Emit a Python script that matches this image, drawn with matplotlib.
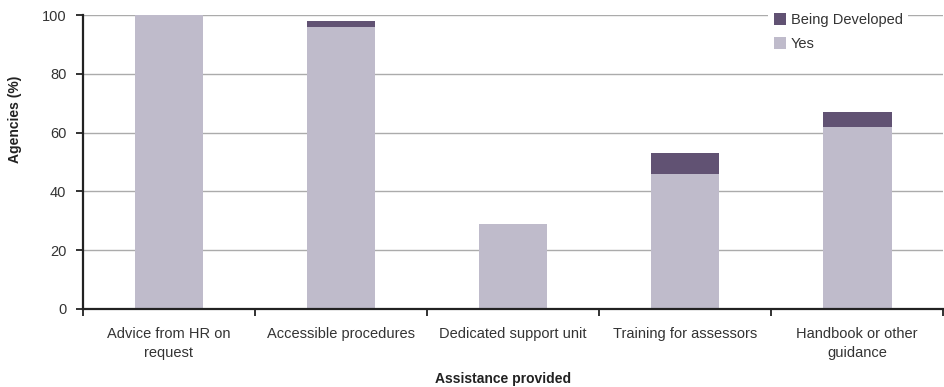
import matplotlib
matplotlib.use("Agg")
import matplotlib.pyplot as plt
import numpy as np

categories = ["Advice from HR on\nrequest", "Accessible procedures",
              "Dedicated support unit", "Training for assessors",
              "Handbook or other\nguidance"]
yes_vals = [100, 96, 29, 46, 62]
developing_vals = [0, 2, 0, 7, 5]

yes_color = "#BFBBCB"
dev_color = "#615273"

plt.rcParams["font.family"] = ["Liberation Sans", "DejaVu Sans"]

fig = plt.figure(figsize=(9.45, 3.87), dpi=100)
ax = fig.add_axes([0.0878, 0.2016, 0.9102, 0.7596])

x = np.arange(len(categories))
ax.bar(x, yes_vals, width=0.4, color=yes_color, label="Yes", zorder=2)
ax.bar(x, developing_vals, width=0.4, bottom=yes_vals, color=dev_color,
       label="Being Developed", zorder=2)

ax.set_xlim(-0.5, len(categories) - 0.5)
ax.set_ylim(0, 100)
ax.set_yticks([0, 20, 40, 60, 80, 100])
ax.yaxis.grid(True, color="#ABABAB", linewidth=1.0, zorder=0)
ax.set_axisbelow(True)

# category boundaries carry the tick marks, centres carry the labels
ax.set_xticks(np.arange(-0.5, len(categories), 1.0))
ax.set_xticklabels([])
ax.set_xticks(x, minor=True)
ax.set_xticklabels(categories, minor=True, fontsize=10.5, color="#333333",
                   linespacing=1.45)
ax.tick_params(axis="x", which="minor", length=0, pad=13)
ax.tick_params(axis="x", which="major", length=5, width=1.3, color="#222222")
ax.tick_params(axis="y", length=5, width=1.3, color="#222222",
               labelsize=10.5, labelcolor="#333333", pad=7)

for side in ("top", "right"):
    ax.spines[side].set_visible(False)
for side in ("left", "bottom"):
    ax.spines[side].set_linewidth(1.6)
    ax.spines[side].set_color("#222222")

ax.set_xlabel("Assistance provided", fontsize=10, fontweight="bold",
              color="#222222")
ax.xaxis.set_label_coords(0.488, -0.214)
ax.set_ylabel("Agencies (%)", fontsize=10, fontweight="bold",
              color="#222222")
ax.yaxis.set_label_coords(-0.0705, 0.646)

handles, labels = ax.get_legend_handles_labels()
leg = fig.legend(handles[::-1], labels[::-1], loc="upper left",
                 bbox_to_anchor=(0.805, 1.0), frameon=True,
                 fontsize=10.5, handlelength=0.85, handleheight=0.85,
                 handletextpad=0.3, labelspacing=0.7, borderpad=0.4)
leg.get_frame().set_facecolor("white")
leg.get_frame().set_edgecolor("none")
leg.get_frame().set_alpha(1.0)
for t in leg.get_texts():
    t.set_color("#333333")

fig.savefig("out.png", dpi=100)
